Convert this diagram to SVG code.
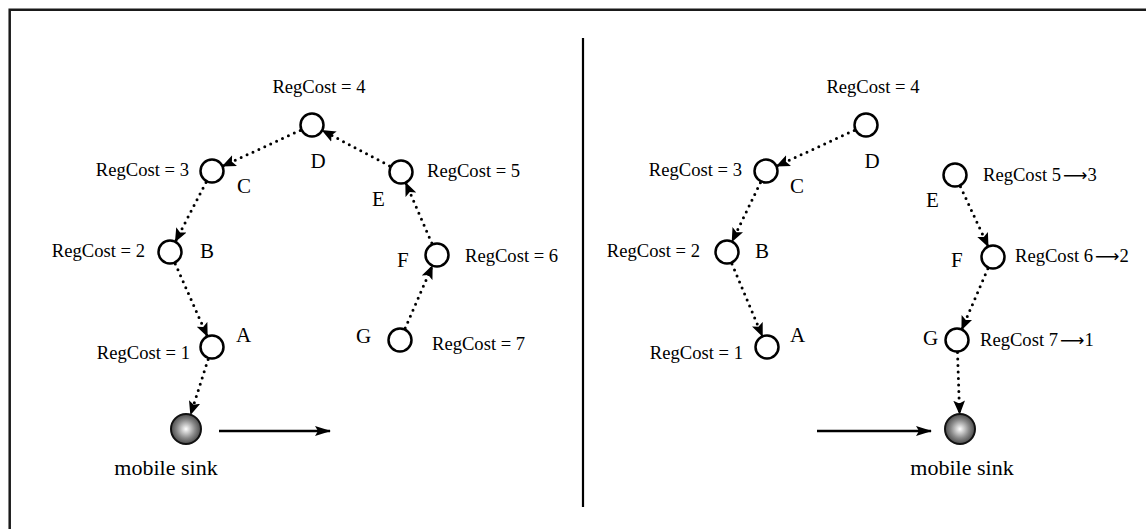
<svg xmlns="http://www.w3.org/2000/svg" width="1146" height="529" viewBox="0 0 1146 529">
  <style>
    .node { fill: #fff; stroke: #000; stroke-width: 2.5; }
    .sink { fill: url(#sinkShade); stroke: #111; stroke-width: 2; }
    .cost { font-family: "Liberation Serif", "Times New Roman", serif; font-size: 18.6px; fill: #000; }
    .arr { font-family: "DejaVu Sans", sans-serif; font-size: 17px; }
    .name { font-family: "Liberation Serif", "Times New Roman", serif; font-size: 21px; fill: #000; }
    .caption { font-family: "Liberation Serif", "Times New Roman", serif; font-size: 22px; fill: #000; }
    .hop { fill: none; stroke: #000; stroke-width: 3; stroke-linecap: round; stroke-dasharray: 0 6.5; marker-end: url(#dotHead); }
    .move { fill: none; stroke: #000; stroke-width: 2.5; marker-end: url(#moveHead); }
    .frame { fill: none; stroke: #1a1a1a; stroke-width: 2.5; }
  </style>
  <defs>
    <radialGradient id="sinkShade" cx="0.5" cy="0.5" r="0.55">
      <stop offset="0" stop-color="#ffffff"/>
      <stop offset="0.55" stop-color="#8a8a8a"/>
      <stop offset="1" stop-color="#3a3a3a"/>
    </radialGradient>
    <marker id="dotHead" markerUnits="userSpaceOnUse" markerWidth="14" markerHeight="12" viewBox="0 0 12 10" refX="11" refY="5" orient="auto">
      <path d="M0,0 L12,5 L0,10 L2.5,5 z" fill="#000"/>
    </marker>
    <marker id="moveHead" markerUnits="userSpaceOnUse" markerWidth="16" markerHeight="10" viewBox="0 0 16 10" refX="15" refY="5" orient="auto">
      <path d="M0,0 L16,5 L0,10 L3,5 z" fill="#000"/>
    </marker>
  </defs>

  <!-- frame and panel divider -->
  <g id="frame">
    <polyline class="frame" points="9.7,529 9.7,9.7 1146,9.7"/>
    <line x1="583" y1="38" x2="583" y2="507" stroke="#000" stroke-width="2.2"/>
  </g>

  <!-- routing hops and sink motion -->
  <g id="connectors">
    <!-- left panel -->
    <line class="hop" x1="300.2" y1="130.4" x2="222.9" y2="166.0"/>
    <line class="hop" x1="206.0" y1="182.5" x2="175.5" y2="241.3"/>
    <line class="hop" x1="175.3" y1="263.9" x2="207.2" y2="336.0"/>
    <line class="hop" x1="208.1" y1="359.4" x2="190.7" y2="414.2"/>
    <line class="hop" x1="389.5" y1="165.9" x2="322.6" y2="130.6"/>
    <line class="hop" x1="431.8" y1="243.1" x2="405.8" y2="183.0"/>
    <line class="hop" x1="405.2" y1="328.1" x2="432.2" y2="266.0"/>
    <line class="move" x1="219" y1="431" x2="330" y2="431"/>
    <!-- right panel -->
    <line class="hop" x1="854.2" y1="130.4" x2="776.9" y2="166.0"/>
    <line class="hop" x1="760.4" y1="182.7" x2="732.2" y2="241.2"/>
    <line class="hop" x1="732.0" y1="264.0" x2="762.3" y2="336.0"/>
    <line class="hop" x1="960.5" y1="186.8" x2="988.0" y2="246.1"/>
    <line class="hop" x1="987.8" y1="268.8" x2="961.9" y2="329.1"/>
    <line class="hop" x1="957.5" y1="352.5" x2="959.6" y2="413.5"/>
    <line class="move" x1="817" y1="431" x2="931" y2="431"/>
  </g>

  <!-- left panel nodes -->
  <g id="left-D">
    <circle class="node" cx="312" cy="125" r="11.5"/>
    <text class="cost" x="319" y="93" text-anchor="middle">RegCost = 4</text>
    <text class="name" x="318" y="168" text-anchor="middle">D</text>
  </g>
  <g id="left-C">
    <circle class="node" cx="212" cy="171" r="11.5"/>
    <text class="cost" x="189" y="176" text-anchor="end">RegCost = 3</text>
    <text class="name" x="237" y="193">C</text>
  </g>
  <g id="left-B">
    <circle class="node" cx="170" cy="252" r="11.5"/>
    <text class="cost" x="145" y="257" text-anchor="end">RegCost = 2</text>
    <text class="name" x="200" y="258">B</text>
  </g>
  <g id="left-A">
    <circle class="node" cx="212" cy="347" r="11.5"/>
    <text class="cost" x="190" y="359" text-anchor="end">RegCost = 1</text>
    <text class="name" x="236" y="342">A</text>
  </g>
  <g id="left-E">
    <circle class="node" cx="401" cy="172" r="11.5"/>
    <text class="cost" x="427" y="177">RegCost = 5</text>
    <text class="name" x="372" y="206">E</text>
  </g>
  <g id="left-F">
    <circle class="node" cx="437" cy="255" r="11.5"/>
    <text class="cost" x="465" y="262">RegCost = 6</text>
    <text class="name" x="397" y="267">F</text>
  </g>
  <g id="left-G">
    <circle class="node" cx="400" cy="340" r="11.5"/>
    <text class="cost" x="432" y="350">RegCost = 7</text>
    <text class="name" x="356" y="343">G</text>
  </g>
  <g id="left-sink">
    <circle class="sink" cx="186" cy="429" r="15"/>
    <text class="caption" x="166" y="475" text-anchor="middle">mobile sink</text>
  </g>

  <!-- right panel nodes -->
  <g id="right-D">
    <circle class="node" cx="866" cy="125" r="11.5"/>
    <text class="cost" x="873" y="93" text-anchor="middle">RegCost = 4</text>
    <text class="name" x="872" y="168" text-anchor="middle">D</text>
  </g>
  <g id="right-C">
    <circle class="node" cx="766" cy="171" r="11.5"/>
    <text class="cost" x="742" y="176" text-anchor="end">RegCost = 3</text>
    <text class="name" x="790" y="193">C</text>
  </g>
  <g id="right-B">
    <circle class="node" cx="727" cy="252" r="11.5"/>
    <text class="cost" x="700" y="257" text-anchor="end">RegCost = 2</text>
    <text class="name" x="755" y="258">B</text>
  </g>
  <g id="right-A">
    <circle class="node" cx="767" cy="347" r="11.5"/>
    <text class="cost" x="743" y="359" text-anchor="end">RegCost = 1</text>
    <text class="name" x="790" y="342">A</text>
  </g>
  <g id="right-E">
    <circle class="node" cx="955" cy="175" r="11.5"/>
    <text class="cost" x="983" y="181">RegCost 5<tspan class="arr" dx="2">⟶</tspan>3</text>
    <text class="name" x="926" y="207">E</text>
  </g>
  <g id="right-F">
    <circle class="node" cx="993" cy="257" r="11.5"/>
    <text class="cost" x="1015" y="262">RegCost 6<tspan class="arr" dx="2">⟶</tspan>2</text>
    <text class="name" x="951" y="267">F</text>
  </g>
  <g id="right-G">
    <circle class="node" cx="957" cy="340" r="11.5"/>
    <text class="cost" x="980" y="346">RegCost 7<tspan class="arr" dx="2">⟶</tspan>1</text>
    <text class="name" x="923" y="345">G</text>
  </g>
  <g id="right-sink">
    <circle class="sink" cx="960" cy="429" r="15"/>
    <text class="caption" x="962" y="475" text-anchor="middle">mobile sink</text>
  </g>
</svg>
